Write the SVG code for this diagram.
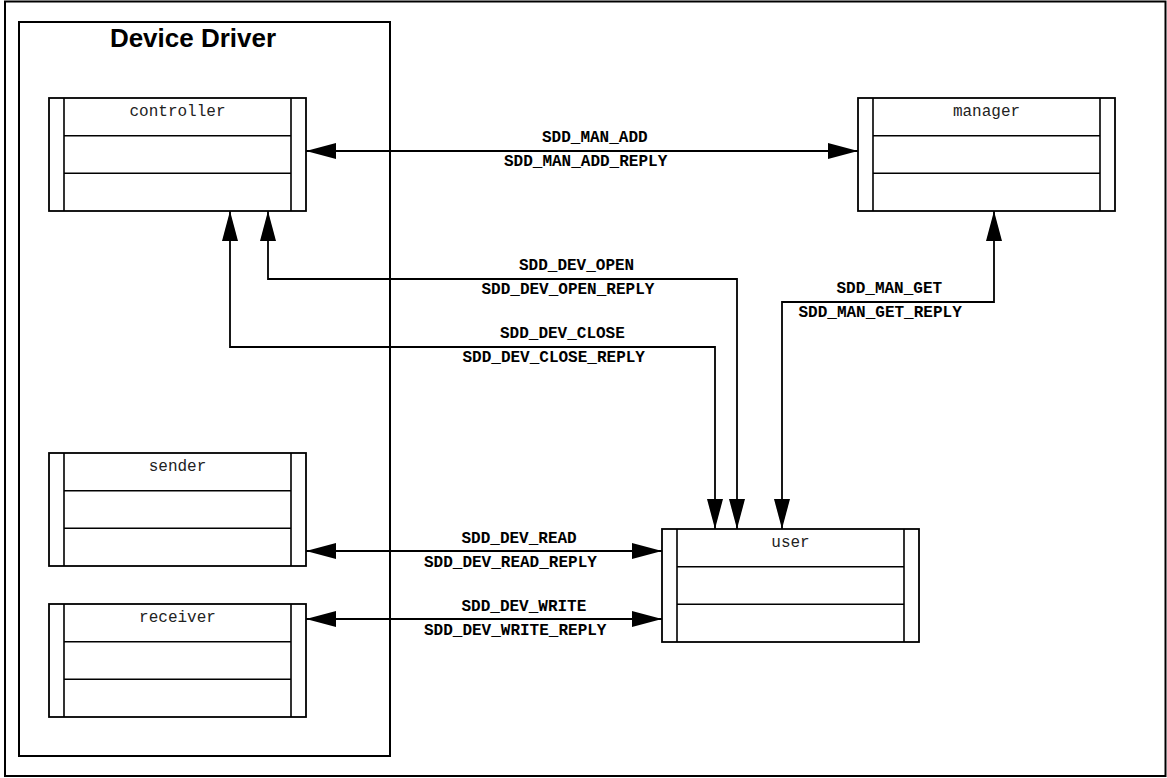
<svg xmlns="http://www.w3.org/2000/svg" width="1167" height="778" viewBox="0 0 1167 778">
<style>
.frame{fill:#fff;stroke:#000;stroke-width:2}
.box{fill:#fff;stroke:#000;stroke-width:1.8}
.ln{fill:none;stroke:#000;stroke-width:1.6}
.name{font-family:"Liberation Mono","DejaVu Sans Mono",monospace;font-size:16px;fill:#222;text-anchor:middle}
.lbl{font-family:"Liberation Mono","DejaVu Sans Mono",monospace;font-size:16px;font-weight:bold;fill:#000}
.title{font-family:"Liberation Sans",Arial,sans-serif;font-size:26px;font-weight:bold;fill:#000;text-anchor:middle}
.conn{fill:none;stroke:#000;stroke-width:1.8;marker-start:url(#ah);marker-end:url(#ah)}
</style>
<defs>
<marker id="ah" markerUnits="userSpaceOnUse" markerWidth="30" markerHeight="16" refX="30" refY="8" orient="auto-start-reverse" viewBox="0 0 30 16">
<path d="M0,0 L30,8 L0,16 Z" fill="#000"/>
</marker>
</defs>
<rect x="0" y="0" width="1167" height="778" fill="#fff"/>
<rect class="frame" x="5" y="1.5" width="1160.5" height="774.5"/>
<g id="device-driver">
<rect class="frame" x="19" y="22" width="371" height="734"/>
<text class="title" x="193" y="46.5">Device Driver</text>
</g>
<g id="controller">
<rect class="box" x="49" y="98" width="257" height="113"/>
<path class="ln" d="M64,98V211M291,98V211M64,135.7H291M64,173.3H291"/>
<text class="name" x="177.5" y="116">controller</text>
</g>
<g id="manager">
<rect class="box" x="858" y="98" width="257" height="113"/>
<path class="ln" d="M873,98V211M1100,98V211M873,135.7H1100M873,173.3H1100"/>
<text class="name" x="986.5" y="116">manager</text>
</g>
<g id="sender">
<rect class="box" x="49" y="453" width="257" height="113"/>
<path class="ln" d="M64,453V566M291,453V566M64,490.7H291M64,528.3H291"/>
<text class="name" x="177.5" y="471">sender</text>
</g>
<g id="receiver">
<rect class="box" x="49" y="604" width="257" height="113"/>
<path class="ln" d="M64,604V717M291,604V717M64,641.7H291M64,679.3H291"/>
<text class="name" x="177.5" y="622">receiver</text>
</g>
<g id="user">
<rect class="box" x="662" y="529" width="257" height="113"/>
<path class="ln" d="M677,529V642M904,529V642M677,566.7H904M677,604.3H904"/>
<text class="name" x="790.5" y="547">user</text>
</g>
<g id="connectors">
<path class="conn" d="M306,151H858"/>
<path class="conn" d="M268,211V279H737V529"/>
<path class="conn" d="M230,211V347H715V529"/>
<path class="conn" d="M994,211V302H782V529"/>
<path class="conn" d="M306,551H662"/>
<path class="conn" d="M306,619H662"/>
<text class="lbl" x="542" y="142">SDD_MAN_ADD</text>
<text class="lbl" x="504" y="166">SDD_MAN_ADD_REPLY</text>
<text class="lbl" x="519" y="270">SDD_DEV_OPEN</text>
<text class="lbl" x="481.5" y="294">SDD_DEV_OPEN_REPLY</text>
<text class="lbl" x="500" y="338">SDD_DEV_CLOSE</text>
<text class="lbl" x="462.5" y="362">SDD_DEV_CLOSE_REPLY</text>
<text class="lbl" x="836.5" y="293">SDD_MAN_GET</text>
<text class="lbl" x="798.5" y="317">SDD_MAN_GET_REPLY</text>
<text class="lbl" x="461.5" y="542.5">SDD_DEV_READ</text>
<text class="lbl" x="424" y="566.5">SDD_DEV_READ_REPLY</text>
<text class="lbl" x="461.5" y="610.5">SDD_DEV_WRITE</text>
<text class="lbl" x="424" y="634.5">SDD_DEV_WRITE_REPLY</text>
</g>
</svg>
